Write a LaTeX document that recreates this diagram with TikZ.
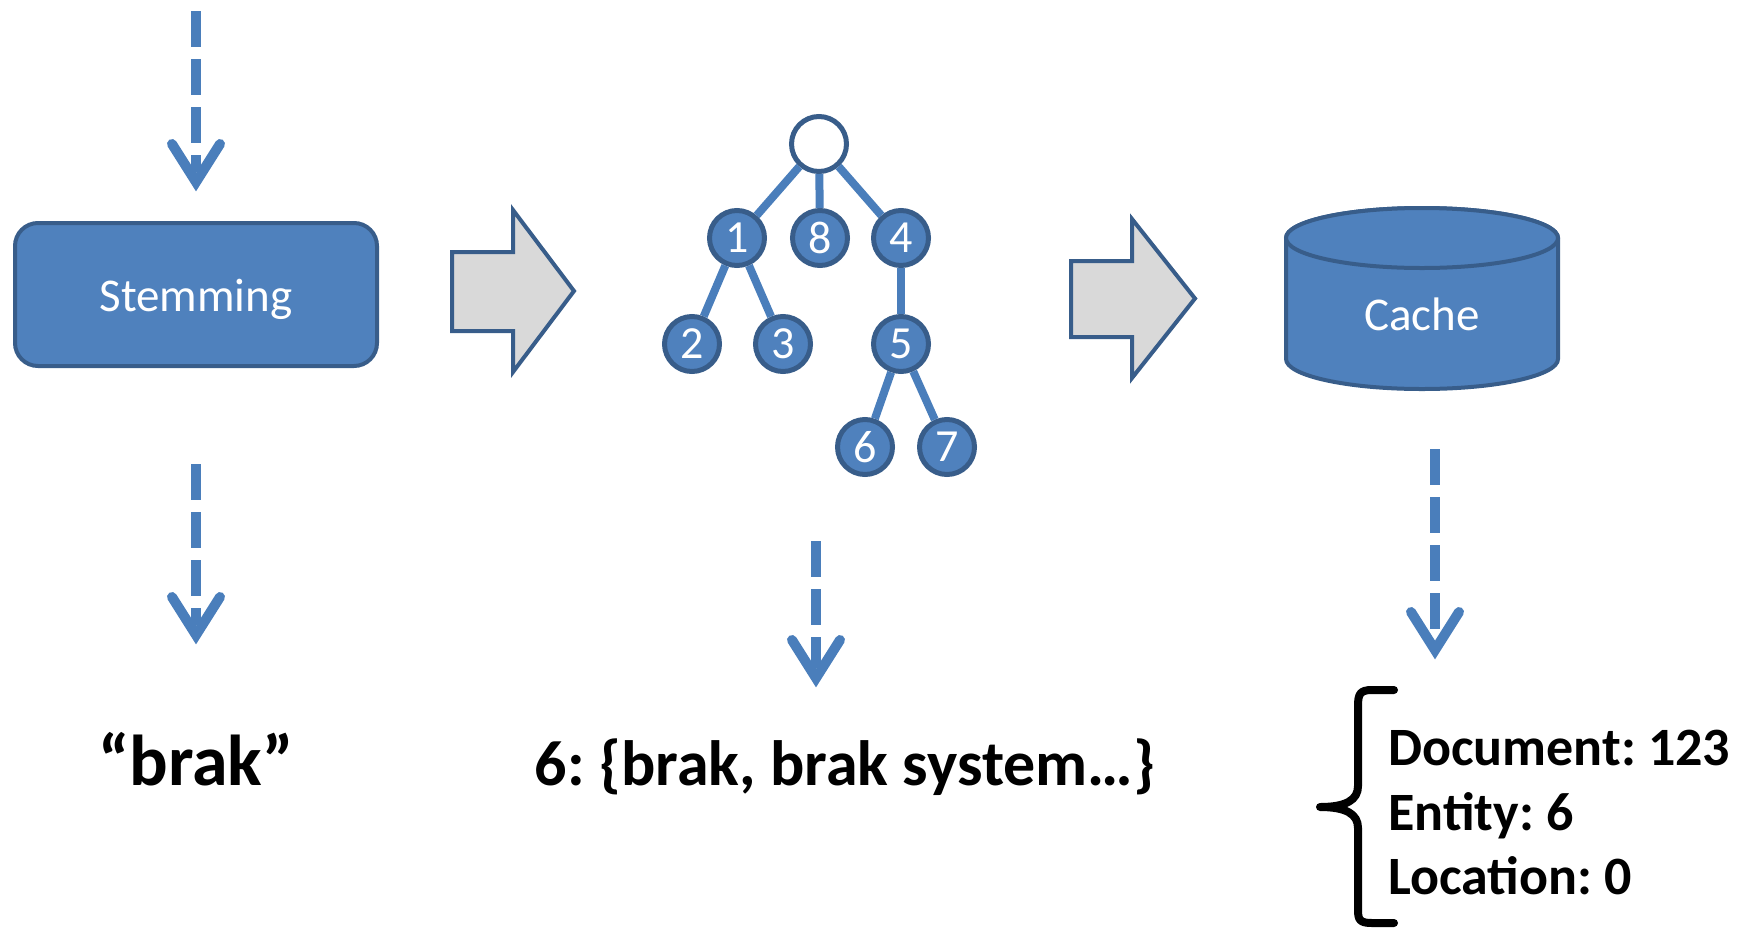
\documentclass[tikz,border=0pt]{standalone}
\usepackage{fontspec}
\setmainfont{Carlito}
\usetikzlibrary{calc}
\definecolor{boxfill}{HTML}{4F81BD}
\definecolor{boxline}{HTML}{385D8A}
\definecolor{conn}{HTML}{4A7EBB}
\definecolor{grayfill}{HTML}{D9D9D9}
\frenchspacing
\newcommand\myDashArrow[2]{%
  \draw[dashconn] (#1) -- ($(#2)+(0,-20)$);
  \draw[chevron] ($(#2)+(-24,-48)$) -- ($(#2)+(0,-10)$) -- ($(#2)+(24,-48)$);
}
\begin{document}
\begin{tikzpicture}[x=1pt,y=-1pt,
  procbox/.style={draw=boxline, fill=boxfill, line width=4pt, rounded corners=23pt,
    minimum width=362pt, minimum height=143pt, inner sep=0pt},
  boxlabel/.style={text=white, font=\fontsize{47}{56}\selectfont, inner sep=0pt, anchor=base},
  treenode/.style={circle, draw=boxline, fill=boxfill, line width=5pt, minimum size=55pt,
    inner sep=0pt, text=white, font=\fontsize{46}{50}\selectfont},
  rootnode/.style={treenode, fill=white},
  treeedge/.style={draw=conn, line width=8pt},
  bigarrow/.style={draw=boxline, fill=grayfill, line width=4pt, line join=miter},
  cyl/.style={draw=boxline, fill=boxfill, line width=4pt},
  dashconn/.style={draw=conn, line width=10pt, dash pattern=on 36pt off 12pt},
  chevron/.style={draw=conn, line width=10pt, line cap=round, line join=miter},
  bigtext/.style={font=\bfseries\fontsize{72}{80}\selectfont, inner sep=0pt, anchor=base},
  midtext/.style={font=\bfseries\fontsize{64}{76}\selectfont, inner sep=0pt, anchor=base},
  doctext/.style={font=\bfseries\fontsize{54}{64}\selectfont, inner sep=0pt, anchor=base west},
  bracestyle/.style={draw=black, line width=8pt, line cap=round, line join=round}
]
\useasboundingbox (0,0) rectangle (1739,927);

% Stemming box
\node[procbox] (stem) at (196,294.5) {};
\node[boxlabel] (stemlbl) at (196,311) {Stemming};

% dashed arrows
\coordinate (a1top) at (196,11);   \coordinate (a1tip) at (196,192);
\coordinate (a2top) at (196,464);  \coordinate (a2tip) at (196,645);
\coordinate (a3top) at (816,541);  \coordinate (a3tip) at (816,688);
\coordinate (a4top) at (1435,449); \coordinate (a4tip) at (1435,660);
\myDashArrow{a1top}{a1tip}
\myDashArrow{a2top}{a2tip}
\myDashArrow{a3top}{a3tip}
\myDashArrow{a4top}{a4tip}

% big gray arrows
\draw[bigarrow] (452,252) -- (513,252) -- (513,210) -- (574,291) -- (513,372) -- (513,331) -- (452,331) -- cycle;
\draw[bigarrow] (1071,261) -- (1132,261) -- (1132,219) -- (1195,298.5) -- (1132,378) -- (1132,337) -- (1071,337) -- cycle;

% tree
\node[rootnode] (root) at (819,144) {};
\node[treenode] (n1) at (737,238) {1};
\node[treenode] (n8) at (820,238) {8};
\node[treenode] (n4) at (901,238) {4};
\node[treenode] (n2) at (692,344) {2};
\node[treenode] (n3) at (783,344) {3};
\node[treenode] (n5) at (901,344) {5};
\node[treenode] (n6) at (865,447) {6};
\node[treenode] (n7) at (947,447) {7};
\draw[treeedge] (root) -- (n1);
\draw[treeedge] (root) -- (n8);
\draw[treeedge] (root) -- (n4);
\draw[treeedge] (n1) -- (n2);
\draw[treeedge] (n1) -- (n3);
\draw[treeedge] (n4) -- (n5);
\draw[treeedge] (n5) -- (n6);
\draw[treeedge] (n5) -- (n7);

% cache cylinder
\draw[cyl] (1286,238) -- (1286,359) arc[start angle=180, end angle=360, x radius=136pt, y radius=30pt]
  -- (1558,238) arc[start angle=0, end angle=180, x radius=136pt, y radius=30pt] -- cycle;
\draw[cyl] (1422,238) ellipse[x radius=136pt, y radius=30pt];
\node[boxlabel] (cache) at (1422,330) {Cache};

% bottom texts
\node[bigtext] (brak) at (196,785) {“brak”};
\node[midtext] (syn) at (845,785) {6: \{brak, brak system…\}};
\node[doctext] (doc) at (1388,765) {Document: 123};
\node[doctext] (ent) at (1388,830) {Entity: 6};
\node[doctext] (loc) at (1388,894) {Location: 0};

% brace
\draw[bracestyle] (1394,690) -- (1372,690) .. controls (1360,690) and (1358,694) .. (1358,706)
  -- (1358,786) .. controls (1358,800) and (1346,807) .. (1320,807)
  .. controls (1346,807) and (1358,814) .. (1358,828)
  -- (1358,910) .. controls (1358,920) and (1360,923) .. (1372,923) -- (1394,923);
\end{tikzpicture}
\end{document}
